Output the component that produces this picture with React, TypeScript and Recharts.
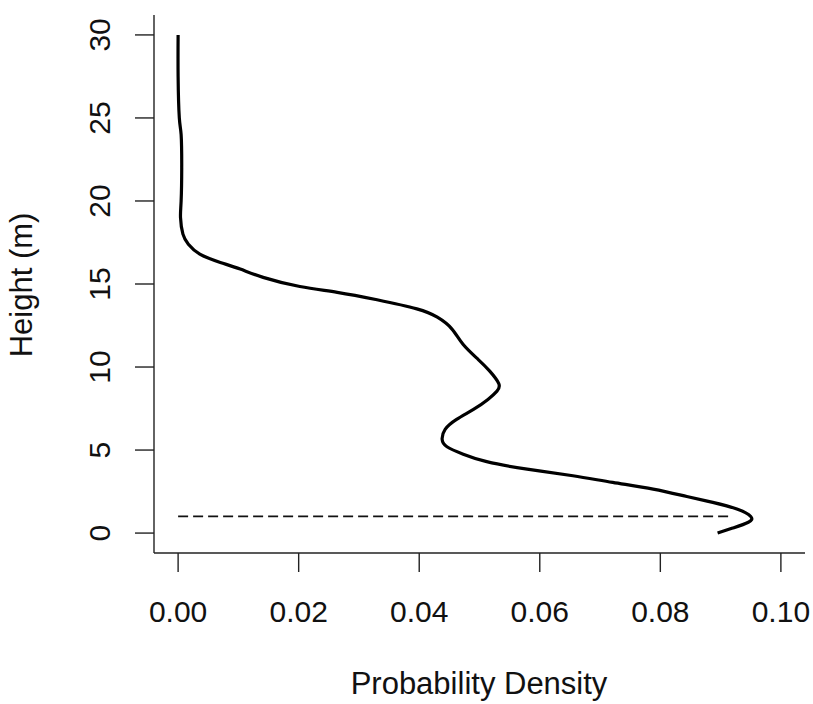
import React from 'react';
import { LineChart, Line, XAxis, YAxis, Label } from 'recharts';

// height profile (m) and the density at each height
const heights = [
  0.0, 0.3, 0.65, 1.0, 1.45, 1.85, 2.2, 2.65, 3.05, 3.45, 3.85, 4.3, 4.75, 5.2, 5.65, 6.25,
  6.85, 7.45, 8.05, 8.55, 9.0, 9.75, 10.45, 11.35, 12.3, 13.0, 13.5, 14.05, 14.5, 14.85, 15.4,
  15.9, 16.3, 16.8, 17.4, 18.0, 19.0, 20.0, 22.0, 24.0, 25.0, 27.5, 30.0,
];
const densities = [
  0.0895, 0.092, 0.0946, 0.095, 0.0927, 0.0887, 0.0844, 0.0788, 0.0721, 0.0655, 0.0579, 0.0512,
  0.0473, 0.0446, 0.0438, 0.0443, 0.0462, 0.049, 0.0514, 0.0529, 0.0532, 0.0517, 0.0498, 0.0473,
  0.0454, 0.043, 0.0396, 0.033, 0.0264, 0.0202, 0.0141, 0.0103, 0.007, 0.0036, 0.0017, 0.0008,
  0.0004, 0.0005, 0.0006, 0.0005, 0.0002, 0.0, 0.0,
];

// dashed reference at 1 m
const refHeights = [1, 1];
const refDensities = [0, 0.092];

const xTicks = [0, 0.02, 0.04, 0.06, 0.08, 0.1];
const yTicks = [0, 5, 10, 15, 20, 25, 30];

const profile = heights.map((h, i) => ({ h, d: densities[i] }));
const refLine = refHeights.map((h, i) => ({ h, d: refDensities[i] }));

const FONT = '"Liberation Sans", Arial, sans-serif';
const INK = '#111';

const XTick = (props: any) => {
  const { x, y, payload } = props;
  return (
    <text x={x} y={y + 50} textAnchor="middle" fontFamily={FONT} fontSize={30} fill={INK}>
      {Number(payload.value).toFixed(2)}
    </text>
  );
};

const YTick = (props: any) => {
  const { x, y, payload } = props;
  const bx = x - 25;
  return (
    <text
      x={bx}
      y={y}
      transform={`rotate(-90, ${bx}, ${y})`}
      textAnchor="middle"
      fontFamily={FONT}
      fontSize={30}
      fill={INK}
    >
      {payload.value}
    </text>
  );
};

export default function App() {
  return (
    <div style={{ position: 'absolute', left: 0, top: 0, background: '#fff' }}>
      <LineChart
        width={813}
        height={704}
        data={profile}
        margin={{ top: 15, right: 8, left: 0, bottom: 0 }}
      >
        <XAxis
          dataKey="d"
          type="number"
          domain={[-0.004, 0.104]}
          allowDataOverflow
          ticks={xTicks}
          interval={0}
          height={151}
          tickSize={19}
          tickMargin={0}
          stroke="#222"
          strokeWidth={1.4}
          tick={<XTick />}
        >
          <Label
            content={() => (
              <text x={479} y={694} textAnchor="middle" fontFamily={FONT} fontSize={31} fill={INK}>
                Probability Density
              </text>
            )}
          />
        </XAxis>
        <YAxis
          dataKey="h"
          type="number"
          domain={[-1.2, 31.2]}
          allowDataOverflow
          ticks={yTicks}
          interval={0}
          width={154}
          tickSize={19}
          tickMargin={0}
          stroke="#222"
          strokeWidth={1.4}
          tick={<YTick />}
        >
          <Label
            content={() => (
              <text
                x={32}
                y={285}
                transform="rotate(-90, 32, 285)"
                textAnchor="middle"
                fontFamily={FONT}
                fontSize={31}
                fill={INK}
              >
                Height (m)
              </text>
            )}
          />
        </YAxis>
        <Line
          data={refLine}
          dataKey="h"
          type="linear"
          stroke="#111"
          strokeWidth={1.7}
          strokeDasharray="10 5"
          dot={false}
          activeDot={false}
          isAnimationActive={false}
        />
        <Line
          dataKey="h"
          type="natural"
          stroke="#000"
          strokeWidth={3.2}
          dot={false}
          activeDot={false}
          isAnimationActive={false}
        />
      </LineChart>
    </div>
  );
}
